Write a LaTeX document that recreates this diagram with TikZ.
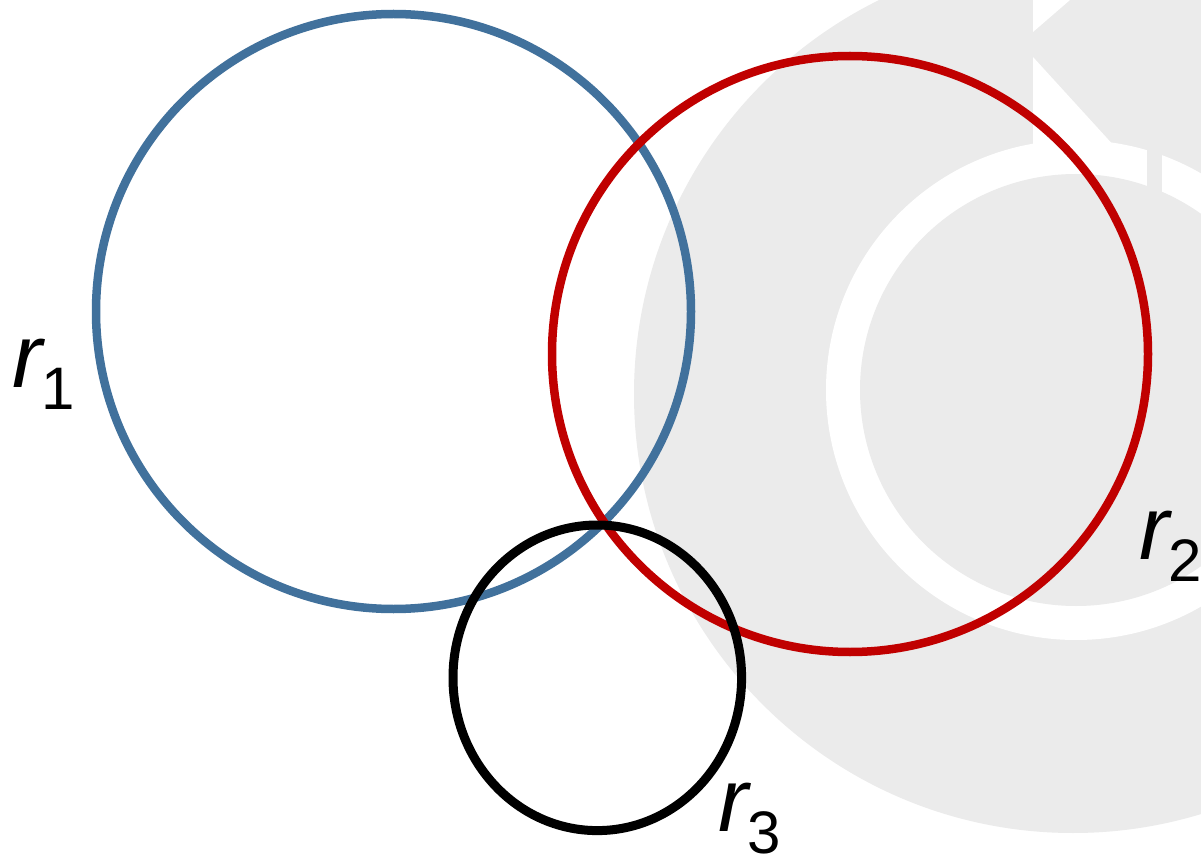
\documentclass[tikz,border=0pt]{standalone}
\usepackage{fontspec}
\setmainfont{Liberation Sans}
\definecolor{logogrey}{HTML}{EBEBEB}
\definecolor{ringblue}{HTML}{41719C}
\definecolor{ringred}{HTML}{C00000}
\begin{document}
\begin{tikzpicture}[x=0.5pt,y=-0.5pt,
  ringline/.style={line width=4.25pt},
  lbl/.style={inner sep=0pt, outer sep=0pt, anchor=base west, font=\fontsize{45}{45}\selectfont},
]
\newcommand{\subdigit}[1]{\raisebox{-11pt}{\fontsize{30}{30}\selectfont #1}}
\useasboundingbox (0,0) rectangle (1201,856);
\fill[white] (0,0) rectangle (1201,856);
% watermark logo
\begin{scope}
  \clip (0,0) rectangle (1201,856);
  \fill[logogrey] (1073,394) circle[radius=219.5pt];
  \fill[white] (1033,57) -- (1147,182) -- (1147,200) -- (1033,200) -- cycle;
  \fill[white] (1076,390) circle[radius=125pt];
  \fill[logogrey] (1076,390) circle[radius=108pt];
  \fill[logogrey] (1147,120) rectangle (1162,200);
  \fill[white] (1033,0) -- (1070,0) -- (1033,32) -- cycle;
\end{scope}
% circles
\draw[ringline, ringblue] (393.5,311.5) circle[radius=148.75pt];
\draw[ringline, ringred] (850,354) circle[radius=149pt];
\draw[ringline, black, line width=4.5pt] (597.3,677.8) ellipse[x radius=72.15pt, y radius=76.4pt];
% labels
\node[lbl] (r1) at (12,387) {\itshape r\upshape\subdigit{1}};
\node[lbl] (r2) at (1139,559) {\itshape r\upshape\subdigit{2}};
\node[lbl] (r3) at (718,831) {\itshape r\upshape\subdigit{3}};
\end{tikzpicture}
\end{document}
